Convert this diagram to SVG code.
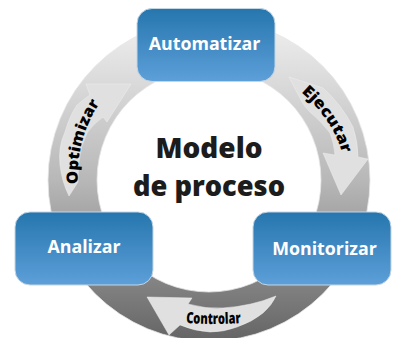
<svg xmlns="http://www.w3.org/2000/svg" width="396" height="338" viewBox="0 0 396 338">
<style>
.box{fill:url(#bg);stroke:#c4d6e4;stroke-width:1}
.lb{font:700 17.8px "Open Sans","Liberation Sans",sans-serif;fill:#fff;text-anchor:middle}
.title{font:800 28px "Open Sans","Liberation Sans",sans-serif;fill:#1c1c1c;text-anchor:middle}
.arr{fill:#e0e0e0;stroke:#eee;stroke-width:.5}
.al{font:800 15.500px "Open Sans","Liberation Sans",sans-serif;fill:#000}
</style>
<defs>
<linearGradient id="bg" x1="0" y1="0" x2="0" y2="1"><stop offset="0" stop-color="#2676ae"/><stop offset="1" stop-color="#5d9fd9"/></linearGradient>
<linearGradient id="rg" gradientUnits="userSpaceOnUse" x1="0" y1="20" x2="0" y2="338"><stop offset="0" stop-color="#f0f0f0"/><stop offset=".5" stop-color="#b8b8b8"/><stop offset="1" stop-color="#666"/></linearGradient>
<path id="pO" d="M78 184A131 131 0 0 1 99 104"/>
<path id="pE" d="M301 92Q334 121 343 156"/>
<path id="pC" d="M186 323Q213 325 242 323"/>
</defs>
<rect width="396" height="338" fill="#fff"/>
<g id="connectors">
<path d="M48 180A161 161 0 1 1 370 180A161 161 0 1 1 48 180ZM97 180A112 112 0 1 0 321 180A112 112 0 1 0 97 180Z" fill="url(#rg)" fill-rule="evenodd" stroke="#e6e6e6" stroke-width=".8"/>
<path class="arr" d="M69 196Q62 182 60 165Q58 147 65 132Q70 115 77 105Q83 100 90 95L86 84H131L107 122L103 117Q93 124 87 133Q80 147 79 162Q78 172 78 182Z"/>
<path class="arr" d="M289 77L323 88Q342 105 353 127Q358 142 358 157L368 159L341 195L323 153L335 155Q334 143 330 133Q322 122 310 112Q305 107 302 102Z"/>
<path class="arr" d="M276 296Q272 305 263 313Q252 322 237 327Q224 332 210 332Q194 331 180 325L169 335L147 297L192 298L188 304Q205 309 223 308Q252 306 276 296Z"/>
<text class="al" textLength="85" lengthAdjust="spacingAndGlyphs"><textPath href="#pO">Optimizar</textPath></text>
<text class="al" textLength="75" lengthAdjust="spacingAndGlyphs"><textPath href="#pE">Ejecutar</textPath></text>
<text class="al" textLength="55" lengthAdjust="spacingAndGlyphs"><textPath href="#pC">Controlar</textPath></text>
</g>
<g id="title"><text class="title" x="209" y="158" textLength="107" lengthAdjust="spacingAndGlyphs">Modelo</text><text class="title" x="209" y="196" textLength="152" lengthAdjust="spacingAndGlyphs">de proceso</text></g>
<g id="automatizar"><rect class="box" x="137" y="8.500" width="138" height="73" rx="15"/><text class="lb" x="204.500" y="50">Automatizar</text></g>
<g id="analizar"><rect class="box" x="15" y="212" width="138" height="73" rx="15"/><text class="lb" x="84" y="253">Analizar</text></g>
<g id="monitorizar"><rect class="box" x="253" y="212" width="138" height="73" rx="15"/><text class="lb" x="324.500" y="255">Monitorizar</text></g>
</svg>
